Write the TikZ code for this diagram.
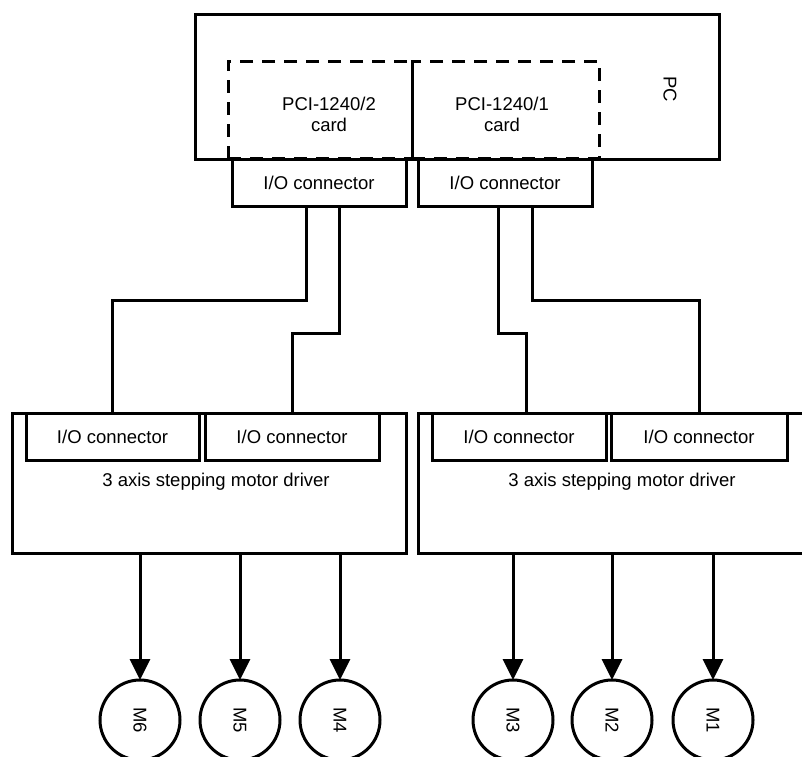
\documentclass[tikz,border=0pt]{standalone}
\usepackage{fontspec}
\setmainfont{Liberation Sans}
\usepackage{graphicx}
\usetikzlibrary{arrows.meta}
\begin{document}
\begin{tikzpicture}[x=1pt,y=-1pt,
  box/.style={draw, line width=3pt, rectangle, inner sep=0pt, outer sep=0pt, font=\fontsize{18.5}{22}\selectfont},
  cardbox/.style={draw, line width=3pt, rectangle, inner sep=0pt, outer sep=0pt, dash pattern=on 13pt off 9pt},
  txt/.style={inner sep=0pt, outer sep=0pt, align=center, font=\fontsize{18.5}{21.5}\selectfont},
  wire/.style={line width=3pt},
  motorarrow/.style={line width=3pt, -{Triangle[width=20pt,length=21pt]}},
  motor/.style={draw, circle, line width=3pt, minimum size=80pt, inner sep=0pt, outer sep=0pt, font=\fontsize{18.5}{22}\selectfont}]
\useasboundingbox (0,0) rectangle (802,756);

% PC
\node[box, minimum width=524pt, minimum height=145pt] (pc) at (457,86.5) {};
\node[cardbox, minimum width=184pt, minimum height=97pt] (card2) at (320,109.5) {};
\node[cardbox, minimum width=187pt, minimum height=97pt] (card1) at (505.5,109.5) {};
\node[txt] (card2txt) at (329,114.5) {PCI-1240/2\\card};
\node[txt] (card1txt) at (502,114.5) {PCI-1240/1\\card};
\node[txt, rotate=-90] (pctxt) at (670,89) {PC};

% top I/O connectors
\node[box, minimum width=174pt, minimum height=47pt] (io2) at (319,182.5) {I/O connector};
\node[box, minimum width=174pt, minimum height=47pt] (io1) at (505,182.5) {I/O connector};

% drivers
\node[box, minimum width=394pt, minimum height=140pt] (drvL) at (209,483) {};
\node[box, minimum width=394pt, minimum height=140pt] (drvR) at (615,483) {};
\node[txt] (drvLtxt) at (216,482) {3 axis stepping motor driver};
\node[txt] (drvRtxt) at (622,482) {3 axis stepping motor driver};
\node[box, minimum width=173pt, minimum height=47pt] (dAa) at (112.5,436.5) {I/O connector};
\node[box, minimum width=174pt, minimum height=47pt] (dAb) at (292,436.5) {I/O connector};
\node[box, minimum width=174pt, minimum height=47pt] (dBa) at (519,436.5) {I/O connector};
\node[box, minimum width=176pt, minimum height=47pt] (dBb) at (699,436.5) {I/O connector};

% wires
\draw[wire] ([xshift=-13pt]io2.south) -- ++(0,94) -| (dAa.north);
\draw[wire] ([xshift=20pt]io2.south) -- ++(0,127) -| (dAb.north);
\draw[wire] ([xshift=-7pt]io1.south) -- ++(0,127) -| ([xshift=7pt]dBa.north);
\draw[wire] ([xshift=27pt]io1.south) -- ++(0,94) -| (dBb.north);

% motors
\node[motor] (m6) at (140,720) {\rotatebox{-90}{M6}};
\node[motor] (m5) at (240,720) {\rotatebox{-90}{M5}};
\node[motor] (m4) at (340,720) {\rotatebox{-90}{M4}};
\node[motor] (m3) at (513,720) {\rotatebox{-90}{M3}};
\node[motor] (m2) at (612,720) {\rotatebox{-90}{M2}};
\node[motor] (m1) at (713,720) {\rotatebox{-90}{M1}};

\foreach \m in {m6,m5,m4}{\draw[motorarrow] (\m |- drvL.south) -- (\m.north);}
\foreach \m in {m3,m2,m1}{\draw[motorarrow] (\m |- drvR.south) -- (\m.north);}
\end{tikzpicture}
\end{document}
